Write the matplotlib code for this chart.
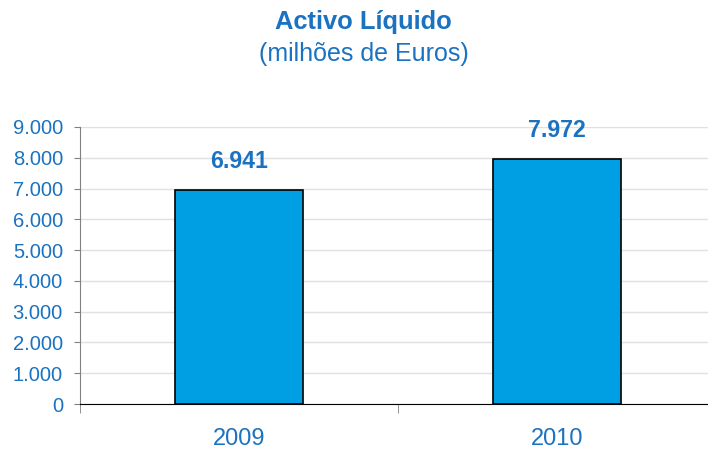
import matplotlib.pyplot as plt
from matplotlib.ticker import FuncFormatter

plt.rcParams["font.family"] = ["Liberation Sans", "DejaVu Sans"]

years = ["2009", "2010"]
values = [6941, 7972]
value_labels = ["6.941", "7.972"]

blue_text = "#1a72c0"
bar_color = "#009fe3"

fig = plt.figure(figsize=(7.08, 4.5), dpi=100)
ax = fig.add_axes([80 / 708, 46 / 450, 636 / 708, 277 / 450])

x = list(range(len(years)))
ax.bar(x, values, width=0.4, color=bar_color, edgecolor="black", linewidth=1.2, zorder=3)
for xi, v, lab in zip(x, values, value_labels):
    ax.text(xi, v + 930, lab, ha="center", va="center", fontsize=16.7,
            fontweight="bold", color=blue_text)

ax.set_xlim(-0.5, 1.5)
ax.set_ylim(0, 9000)
ax.set_yticks(range(0, 9001, 1000))
ax.yaxis.set_major_formatter(FuncFormatter(lambda v, p: f"{int(v):,}".replace(",", ".")))
ax.set_xticks(x)
ax.set_xticklabels(years)
ax.set_xticks([-0.5, 0.5, 1.5], minor=True)
ax.tick_params(axis="x", which="major", length=0, pad=17, labelsize=17, labelcolor=blue_text)
ax.tick_params(axis="x", which="minor", length=6.5, color="#808080", direction="out")
ax.tick_params(axis="y", length=4.3, color="#808080", labelsize=14.5, labelcolor=blue_text, pad=8)

ax.grid(axis="y", color="#e0e0e0", linewidth=1, zorder=0)
for side in ["top", "right"]:
    ax.spines[side].set_visible(False)
ax.spines["left"].set_color("#808080")
ax.spines["bottom"].set_color("black")

fig.text(363 / 708, 1 - 22 / 450, "Activo Líquido", ha="center", va="center",
         fontsize=18.4, fontweight="bold", color=blue_text)
fig.text(364 / 708, 1 - 54 / 450, "(milhões de Euros)", ha="center", va="center",
         fontsize=18, color=blue_text)

fig.savefig("out.png", dpi=100)
